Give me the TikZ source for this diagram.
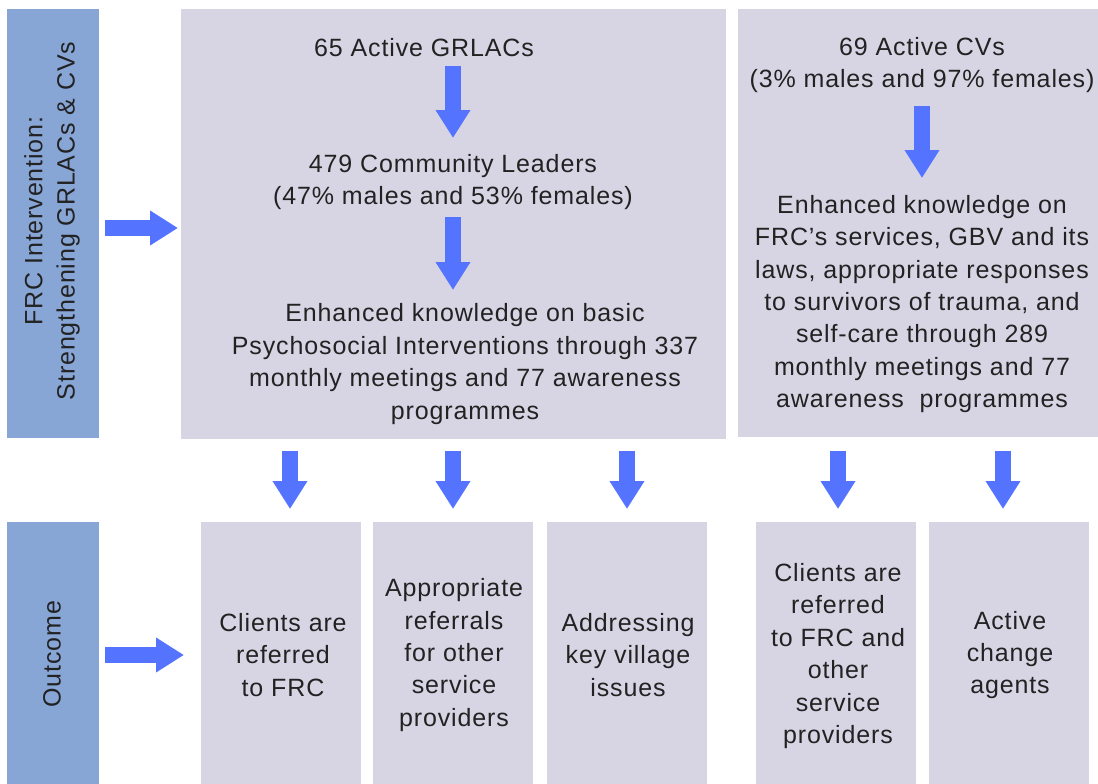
\documentclass[tikz,border=0pt]{standalone}
\usepackage{fontspec}
\setmainfont[LetterSpace=3.5]{Liberation Sans}
\usetikzlibrary{arrows.meta}
\definecolor{sidebar}{HTML}{87A6D6}
\definecolor{panel}{HTML}{D7D5E4}
\definecolor{flow}{HTML}{5474FF}
\definecolor{ink}{HTML}{222222}
\tikzset{
  sidebox/.style={fill=sidebar,draw=none},
  panelbox/.style={fill=panel,draw=none},
  txt/.style={align=center,text=ink,font=\fontsize{25}{32.4}\selectfont,inner sep=0pt},
  flowarrow/.style={draw=flow,line width=16pt,-{Triangle[length=28pt,width=33pt]}},
}
\begin{document}
\begin{tikzpicture}[x=1pt,y=-1pt]
\useasboundingbox (0,0) rectangle (1098,784);
% side labels
\fill[sidebox] (7,9) rectangle (99,438);
\fill[sidebox] (7,522) rectangle (99,784);
\node[txt,rotate=90] (sideA) at (52,221) {FRC Intervention:\\Strengthening GRLACs \& CVs};
\node[txt,rotate=90] (sideB) at (52,654) {Outcome};
% upper panels
\fill[panelbox] (181,9) rectangle (726,439);
\fill[panelbox] (738,9) rectangle (1098,437);
% lower outcome boxes
\fill[panelbox] (201,522) rectangle (361,784);
\fill[panelbox] (373,522) rectangle (533,784);
\fill[panelbox] (547,522) rectangle (707,784);
\fill[panelbox] (756,522) rectangle (916,784);
\fill[panelbox] (929,522) rectangle (1089,784);
% texts in the GRLAC panel
\node[txt] (g1) at (424,48) {65 Active GRLACs};
\node[txt] (g2) at (453,182) {479 Community Leaders\\(47\% males and 53\% females)};
\node[txt] (g3) at (465,364) {Enhanced knowledge on basic\\Psychosocial Interventions through 337\\monthly meetings and 77 awareness\\programmes};
% texts in the CV panel
\node[txt] (c1) at (922,65) {69 Active CVs\\(3\% males and 97\% females)};
\node[txt] (c2) at (922,304) {Enhanced knowledge on\\FRC’s services, GBV and its\\laws, appropriate responses\\to survivors of trauma, and\\self-care through 289\\monthly meetings and 77\\awareness\ \ programmes};
% outcome texts
\node[txt] (o1) at (283,655) {Clients are\\referred\\to FRC};
\node[txt] (o2) at (454,655) {Appropriate\\referrals\\for other\\service\\providers};
\node[txt] (o3) at (628,655) {Addressing\\key village\\issues};
\node[txt] (o4) at (838,656) {Clients are\\referred\\to FRC and\\other\\service\\providers};
\node[txt] (o5) at (1010,655) {Active\\change\\agents};
% arrow end points
\coordinate (hA0) at (105,228); \coordinate (hA1) at (178,228);
\coordinate (hB0) at (105,655); \coordinate (hB1) at (184,655);
\coordinate (v1a) at (453,66);  \coordinate (v1b) at (453,138);
\coordinate (v2a) at (453,217); \coordinate (v2b) at (453,290);
\coordinate (v3a) at (922,106); \coordinate (v3b) at (922,178);
\foreach \x [count=\i] in {290,453,627,838,1003}{
  \coordinate (d\i a) at (\x,451);
  \coordinate (d\i b) at (\x,509);
}
% arrows
\draw[flowarrow] (hA0) -- (hA1);
\draw[flowarrow] (hB0) -- (hB1);
\draw[flowarrow] (v1a) -- (v1b);
\draw[flowarrow] (v2a) -- (v2b);
\draw[flowarrow] (v3a) -- (v3b);
\foreach \i in {1,...,5}{
  \draw[flowarrow] (d\i a) -- (d\i b);
}
\end{tikzpicture}
\end{document}
